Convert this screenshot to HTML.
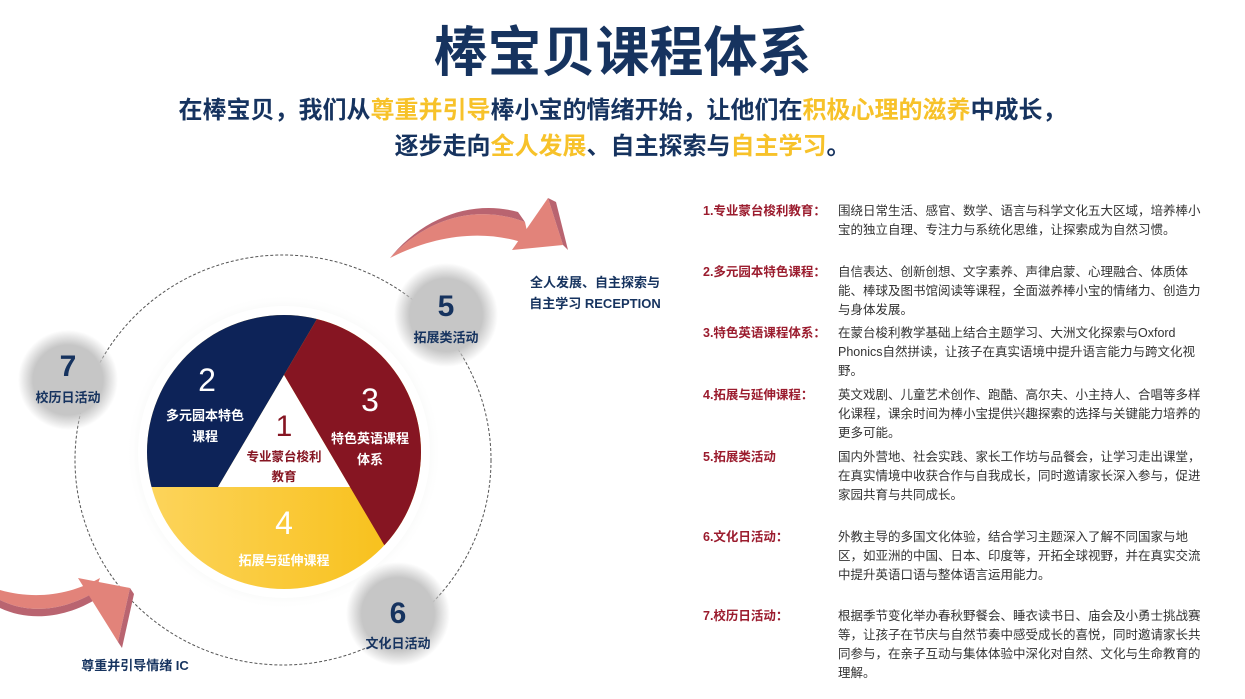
<!DOCTYPE html>
<html><head><meta charset="utf-8"><style>
body{margin:0;width:1245px;height:699px;background:#fff;position:relative;overflow:hidden;font-family:"Liberation Sans","Noto Sans CJK SC",sans-serif;}
.a{position:absolute;white-space:nowrap}
.t{left:0;width:1245px;text-align:center;color:#16335f;font-weight:bold}
.y{color:#f7c22a}
.lab{position:absolute;left:703px;color:#9b1c2e;font-weight:bold;font-size:12.5px;line-height:19px}
.d{position:absolute;left:838px;color:#333;font-size:12.5px;line-height:19px;white-space:nowrap}
.g{position:absolute;text-align:center;color:#16335f;font-weight:bold}
</style></head><body>
<div class="a t" style="top:21px;font-size:54px;line-height:64px;">棒宝贝课程体系</div>
<div class="a t" style="top:96px;font-size:24px;line-height:30px;">在棒宝贝，我们从<span class="y">尊重并引导</span>棒小宝的情绪开始，让他们在<span class="y">积极心理的滋养</span>中成长，</div>
<div class="a t" style="top:132px;font-size:24px;line-height:30px;">逐步走向<span class="y">全人发展</span>、自主探索与<span class="y">自主学习</span>。</div>

<svg class="a" style="left:0;top:0" width="700" height="699" viewBox="0 0 700 699">
<defs>
<radialGradient id="gc"><stop offset="0.7" stop-color="#c6c6c6"/><stop offset="1" stop-color="#c6c6c6" stop-opacity="0"/></radialGradient>
<linearGradient id="yg" x1="0" x2="1"><stop offset="0" stop-color="#fdd868"/><stop offset="1" stop-color="#f6b800"/></linearGradient>
<radialGradient id="halo"><stop offset="0.85" stop-color="#eef0ee"/><stop offset="1" stop-color="#fff" stop-opacity="0"/></radialGradient>
<clipPath id="pc"><circle cx="284" cy="452" r="137"/></clipPath>
</defs>
<circle cx="284" cy="452" r="158" fill="url(#halo)"/>
<circle cx="284" cy="452" r="146" fill="#fff"/>
<ellipse cx="283" cy="460" rx="208" ry="205" fill="none" stroke="#555" stroke-width="1" stroke-dasharray="3,2"/>
<g clip-path="url(#pc)">
<rect x="100" y="300" width="400" height="320" fill="url(#yg)"/>
<polygon points="284,375 614,-185 -500,-500 -500,487 218,487" fill="#0d2358"/>
<polygon points="284,375 614,-185 1000,-185 1010,1607 350,487" fill="#861522"/>
<polygon points="284,375 218,487 350,487" fill="#fff"/>
</g>
<circle cx="68" cy="380" r="50" fill="url(#gc)"/>
<circle cx="446" cy="315" r="52" fill="url(#gc)"/>
<circle cx="398" cy="614" r="52" fill="url(#gc)"/>
<path d="M390,258 C430,215 480,205 525,222 L530,245 C485,228 435,235 390,258 Z" fill="#e2837a"/>
<path d="M390,258 C430,215 480,205 525,222 L518,212 C475,200 425,215 390,258 Z" fill="#b96470"/>
<polygon points="512,250 548,198 563,245" fill="#e2837a"/>
<polygon points="548,198 556,202 568,250 563,245" fill="#b96470"/>
<path d="M0,600 C30,615 65,610 95,592 L100,578 C70,595 35,600 0,590 Z" fill="#e2837a"/>
<path d="M0,600 C30,615 65,610 95,592 L98,598 C66,618 30,622 0,608 Z" fill="#b96470"/>
<polygon points="78,578 130,588 118,642" fill="#e2837a"/>
<polygon points="130,588 134,594 122,648 118,642" fill="#b96470"/>
</svg>

<div class="g" style="left:28px;top:350px;width:80px;font-size:30px;line-height:34px;">7</div>
<div class="g" style="left:18px;top:387px;width:100px;font-size:13px;">校历日活动</div>
<div class="g" style="left:406px;top:290px;width:80px;font-size:30px;line-height:34px;">5</div>
<div class="g" style="left:396px;top:327px;width:100px;font-size:13px;">拓展类活动</div>
<div class="g" style="left:358px;top:597px;width:80px;font-size:30px;line-height:34px;">6</div>
<div class="g" style="left:348px;top:633px;width:100px;font-size:13px;">文化日活动</div>
<div class="g" style="left:510px;top:272px;width:170px;font-size:13px;line-height:21px;">全人发展、自主探索与<br>自主学习 RECEPTION</div>
<div class="g" style="left:60px;top:655px;width:150px;font-size:13px;">尊重并引导情绪 IC</div>

<div class="g" style="left:167px;top:362px;width:80px;color:#fff;font-size:32px;font-weight:normal;">2</div>
<div class="g" style="left:150px;top:405px;width:110px;color:#fff;font-size:13px;line-height:21px;">多元园本特色<br>课程</div>
<div class="g" style="left:330px;top:382px;width:80px;color:#fff;font-size:32px;font-weight:normal;">3</div>
<div class="g" style="left:320px;top:428px;width:100px;color:#fff;font-size:13px;line-height:21px;">特色英语课程<br>体系</div>
<div class="g" style="left:244px;top:410px;width:80px;color:#861522;font-size:30px;font-weight:normal;">1</div>
<div class="g" style="left:230px;top:447px;width:108px;color:#861522;font-size:12.5px;line-height:20px;">专业蒙台梭利<br>教育</div>
<div class="g" style="left:244px;top:505px;width:80px;color:#fff;font-size:32px;font-weight:normal;">4</div>
<div class="g" style="left:224px;top:550px;width:120px;color:#fff;font-size:13px;">拓展与延伸课程</div>

<div class="lab" style="top:202px">1.专业蒙台梭利教育：</div>
<div class="d" style="top:202px">围绕日常生活、感官、数学、语言与科学文化五大区域，培养棒小<br>宝的独立自理、专注力与系统化思维，让探索成为自然习惯。</div>
<div class="lab" style="top:263px">2.多元园本特色课程：</div>
<div class="d" style="top:263px">自信表达、创新创想、文字素养、声律启蒙、心理融合、体质体<br>能、棒球及图书馆阅读等课程，全面滋养棒小宝的情绪力、创造力<br>与身体发展。</div>
<div class="lab" style="top:324px">3.特色英语课程体系：</div>
<div class="d" style="top:324px">在蒙台梭利教学基础上结合主题学习、大洲文化探索与Oxford<br>Phonics自然拼读，让孩子在真实语境中提升语言能力与跨文化视<br>野。</div>
<div class="lab" style="top:386px">4.拓展与延伸课程：</div>
<div class="d" style="top:386px">英文戏剧、儿童艺术创作、跑酷、高尔夫、小主持人、合唱等多样<br>化课程，课余时间为棒小宝提供兴趣探索的选择与关键能力培养的<br>更多可能。</div>
<div class="lab" style="top:448px">5.拓展类活动</div>
<div class="d" style="top:448px">国内外营地、社会实践、家长工作坊与品餐会，让学习走出课堂，<br>在真实情境中收获合作与自我成长，同时邀请家长深入参与，促进<br>家园共育与共同成长。</div>
<div class="lab" style="top:528px">6.文化日活动：</div>
<div class="d" style="top:528px">外教主导的多国文化体验，结合学习主题深入了解不同国家与地<br>区，如亚洲的中国、日本、印度等，开拓全球视野，并在真实交流<br>中提升英语口语与整体语言运用能力。</div>
<div class="lab" style="top:607px">7.校历日活动：</div>
<div class="d" style="top:607px">根据季节变化举办春秋野餐会、睡衣读书日、庙会及小勇士挑战赛<br>等，让孩子在节庆与自然节奏中感受成长的喜悦，同时邀请家长共<br>同参与，在亲子互动与集体体验中深化对自然、文化与生命教育的<br>理解。</div>
</body></html>
